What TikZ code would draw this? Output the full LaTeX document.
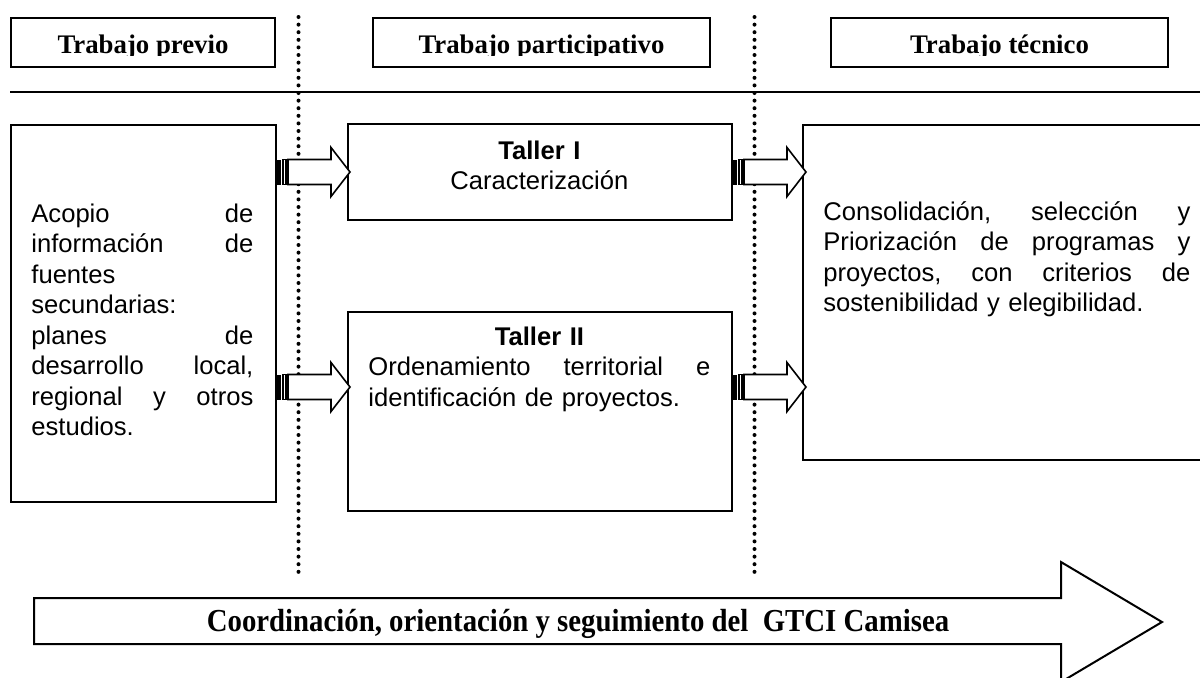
\documentclass[tikz,border=0pt]{standalone}
\usepackage{fontspec}
\setmainfont{Liberation Sans}
\newfontfamily\headfont{Liberation Serif}
\newfontfamily\arrowfont{Liberation Serif}[FakeStretch=0.9]
\usetikzlibrary{positioning}
% one justified line: words are spread with \hfill
\newcommand{\jline}[1]{\leavevmode\hbox to \hsize{#1}}

\tikzset{
  box/.style={draw, line width=1pt, inner sep=0pt, anchor=north west},
  head/.style={font=\headfont\bfseries\fontsize{13.4}{16}\selectfont, anchor=base, inner sep=0pt},
  body/.style={font=\fontsize{12.8}{15.25}\selectfont, inner sep=0pt, align=left, anchor=base west},
  sepline/.style={line width=2pt, line cap=round, dash pattern=on 0pt off 3.8pt},
  striparrow/.pic={
    \fill (0,-12.5) rectangle (4,12.5);
    \draw[line width=0.8pt] (6,-12.5) rectangle (9,12.5);
    \draw[line width=0.8pt, fill=white] (11,-12.5) -- (54,-12.5) -- (54,-24.5) -- (73,0)
      -- (54,24.5) -- (54,12.5) -- (11,12.5) -- cycle;
  }
}

\begin{document}
\begin{tikzpicture}[x=0.5pt, y=-0.5pt]
  \useasboundingbox (0,0) rectangle (1200,677);
  % column headers
  \node[box, minimum width=132pt, minimum height=24.5pt] (prevbox) at (10,17) {};
  \node[box, minimum width=168.5pt, minimum height=24.5pt, right=48pt of prevbox] (partbox) {};
  \node[box, minimum width=168.5pt, minimum height=24.5pt, right=59.5pt of partbox] (tecbox) {};
  \begin{scope}
    \clip (0,0) rectangle (1200,55.5);
    \node[head] (prevtxt) at (prevbox.center |- 0,53) {Trabajo previo};
    \node[head] (parttxt) at (partbox.center |- 0,53) {Trabajo participativo};
    \node[head] (tectxt) at (tecbox.center |- 0,53) {Trabajo técnico};
  \end{scope}
  \draw[line width=1pt] (10,92) -- (1200,92);
  \draw[sepline] (298.5,17) -- (298.5,578);
  \draw[sepline] (754.5,17) -- (754.5,578);

  % boxes
  \node[box, minimum width=132.5pt, minimum height=188.5pt] (acopio) at (10,124) {};
  \node[box, minimum width=192pt, minimum height=48pt] (taller1) at (347,123) {};
  \node[box, minimum width=192pt, minimum height=99.5pt, below=45pt of taller1] (taller2) {};
  \node[box, minimum width=205pt, minimum height=167.5pt] (consol) at (802,124) {};

  \node[body, text width=111pt] (acopiotxt) at (31,222)
    {\jline{Acopio\hfill de}\\ \jline{información\hfill de}\\ fuentes\\ secundarias:\\
     \jline{planes\hfill de}\\ \jline{desarrollo\hfill local,}\\
     \jline{regional\hfill y\hfill otros}\\ estudios.};
  \node[body, text width=171pt] (taller1txt) at (368,159)
    {\makebox[\hsize]{\textbf{Taller I}}\\ \makebox[\hsize]{Caracterización}};
  \node[body, text width=171pt] (taller2txt) at (368,345)
    {\makebox[\hsize]{\textbf{Taller II}}\\ \jline{Ordenamiento\hfill territorial\hfill e}\\
     identificación de proyectos.};
  \node[body, text width=183.5pt] (consoltxt) at (823,220)
    {\jline{Consolidación,\hfill selección\hfill y}\\
     \jline{Priorización\hfill de\hfill programas\hfill y}\\
     \jline{proyectos,\hfill con\hfill criterios\hfill de}\\ sostenibilidad y elegibilidad.};

  % striped arrows
  \pic at (acopio.east |- taller1.west) {striparrow};
  \pic at (acopio.east |- 0,387) {striparrow};
  \pic at (taller1.east) {striparrow};
  \pic at (taller2.east |- 0,387) {striparrow};

  % bottom arrow
  \draw[line width=1pt] (34,598) -- (1061,598) -- (1061,562) -- (1162,622)
    -- (1061,682) -- (1061,644) -- (34,644) -- cycle;
  \node[font=\arrowfont\bfseries\fontsize{16}{19}\selectfont, anchor=base, inner sep=0pt]
    (gtci) at (578,631) {Coordinación, orientación y seguimiento del \ GTCI Camisea};
\end{tikzpicture}
\end{document}
